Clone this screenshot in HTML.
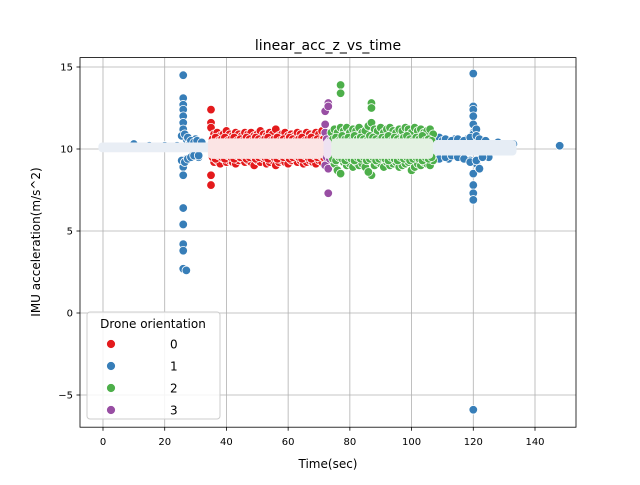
<!DOCTYPE html>
<html><head><meta charset="utf-8"><style>
body{margin:0;background:#fff}
text{font-family:"DejaVu Sans","Liberation Sans",sans-serif}
</style></head><body>
<svg id="chart" width="640" height="480" viewBox="0 0 640 480" xmlns="http://www.w3.org/2000/svg">
<rect width="640" height="480" fill="#fff"/>
<text x="328" y="50" font-size="14" text-anchor="middle">linear_acc_z_vs_time</text>
<g id="grid"></g>
<g id="bands"></g>
<g id="points"></g>
<rect x="80" y="57.6" width="496" height="369.6" fill="none" stroke="#000" stroke-width="0.8"/>
<g id="ticks"></g>
<text x="328" y="468" font-size="12" text-anchor="middle">Time(sec)</text>
<text transform="translate(40,242) rotate(-90)" font-size="12" text-anchor="middle">IMU acceleration(m/s^2)</text>
<g>
<rect x="87" y="312" width="133" height="107" rx="3" fill="#fff" fill-opacity="0.85" stroke="#ccc"/>
<text x="153" y="328" font-size="12" text-anchor="middle">Drone orientation</text>
<g id="legend-entries"></g>
</g>
</svg>
<script>
const xTicks=[0,20,40,60,80,100,120,140];
const yTicks=[-5,0,5,10,15];
const yTickLabels=["\u22125","0","5","10","15"];
const colors=["#e41a1c","#377eb8","#4daf4a","#984ea3"];
const categories=["0","1","2","3"];
// series 0 (red)
const t0=[35,35,35,35,35,36,37,38,39,40,41,42,43,44,45,46,47,48,49,50,51,52,53,54,55,56,57,58,59,60,61,62,63,64,65,66,67,68,69,70,71,72,36,37,38,39,40,41,42,43,44,45,46,47,48,49,50,51,52,53,54,55,56,57,58,59,60,61,62,63,64,65,66,67,68,69,70,71,72,
 35.5,36.5,37.5,38.5,39.5,40.5,41.5,42.5,43.5,44.5,45.5,46.5,47.5,48.5,49.5,50.5,51.5,52.5,53.5,54.5,55.5,56.5,57.5,58.5,59.5,60.5,61.5,62.5,63.5,64.5,65.5,66.5,67.5,68.5,69.5,70.5,71.5,
 35.5,36.5,37.5,38.5,39.5,40.5,41.5,42.5,43.5,44.5,45.5,46.5,47.5,48.5,49.5,50.5,51.5,52.5,53.5,54.5,55.5,56.5,57.5,58.5,59.5,60.5,61.5,62.5,63.5,64.5,65.5,66.5,67.5,68.5,69.5,70.5,71.5];
const v0=[12.4,11.6,11.3,8.4,7.8,10.9,11.0,10.8,10.9,11.1,10.9,10.8,11.0,10.9,10.8,11.0,10.9,11.0,10.8,10.9,11.1,10.9,10.8,11.0,10.9,11.2,10.8,10.9,11.0,10.8,10.9,10.8,11.0,10.9,10.8,11.0,10.9,10.8,11.0,10.9,11.1,10.8,9.2,9.3,9.1,9.4,9.2,9.3,9.2,9.1,9.3,9.4,9.2,9.3,9.2,9.0,9.3,9.2,9.4,9.1,9.2,9.3,9.0,9.2,9.3,9.2,9.1,9.3,9.4,9.2,9.3,9.1,9.2,9.3,9.2,9.1,9.3,9.2,9.3,
 10.6,10.7,10.5,10.6,10.7,10.5,10.6,10.7,10.5,10.6,10.5,10.7,10.6,10.5,10.7,10.6,10.5,10.6,10.7,10.5,10.6,10.7,10.5,10.6,10.5,10.7,10.6,10.5,10.6,10.7,10.5,10.6,10.7,10.5,10.6,10.5,10.6,
 9.5,9.4,9.6,9.5,9.4,9.6,9.5,9.4,9.6,9.5,9.6,9.4,9.5,9.6,9.4,9.5,9.6,9.5,9.4,9.6,9.5,9.4,9.6,9.5,9.6,9.4,9.5,9.6,9.5,9.4,9.6,9.5,9.4,9.6,9.5,9.6,9.5];
// series 1 (blue)
const t1=[10,15,20,24,26,26,26,26,26,26,26,26,26,26,26,26,26,26,27,27,27,28,29,30,31,110,112,114,116,118,119,120,120,120,120,120,120,120,120,120,120,120,120,121,121,122,123,125,128,130,133,148,
 25.5,26.5,27.5,28.5,29.5,30.5,32,25.5,26.5,27.5,28.5,29.5,31,108,109,110,111,113,115,117,119,121,122,124,108,109,111,113,115,117,119,121,123];
const v1=[10.3,10.2,10.2,10.2,14.5,13.1,12.7,12.4,12.0,11.6,11.2,8.9,8.4,6.4,5.4,4.2,3.8,2.7,2.6,10.6,9.4,10.5,9.6,10.6,9.5,10.5,9.4,10.6,9.5,10.6,9.3,14.6,12.6,12.4,12.0,11.5,11.0,8.5,7.8,7.3,6.9,-5.9,10.9,9.1,11.2,8.8,10.5,9.5,10.4,10.3,10.3,10.2,
 10.8,10.9,10.7,10.5,10.4,10.5,10.4,9.3,9.2,9.4,9.5,9.6,9.6,10.6,10.7,10.5,10.6,10.5,10.6,10.5,10.7,10.8,10.6,10.5,9.5,9.4,9.5,9.6,9.5,9.4,9.2,9.3,9.5];
// series 2 (green)
const t2=[74,75,76,77,77,77,78,79,80,81,82,83,84,85,86,87,87,87,87,88,89,90,91,92,93,94,95,96,97,98,99,100,101,102,103,104,105,106,107,75,76,77,78,79,80,81,82,83,84,85,86,88,89,90,91,92,93,94,95,96,97,98,99,100,101,102,103,104,105,106,107,
 74.5,75.5,76.5,77.5,78.5,79.5,80.5,81.5,82.5,83.5,84.5,85.5,86.5,87.5,88.5,89.5,90.5,91.5,92.5,93.5,94.5,95.5,96.5,97.5,98.5,99.5,100.5,101.5,102.5,103.5,104.5,105.5,106.5,
 74.5,75.5,76.5,77.5,78.5,79.5,80.5,81.5,82.5,83.5,84.5,85.5,86.5,87.5,88.5,89.5,90.5,91.5,92.5,93.5,94.5,95.5,96.5,97.5,98.5,99.5,100.5,101.5,102.5,103.5,104.5,105.5,106.5];
const v2=[11.0,11.2,11.0,13.9,13.4,11.3,11.1,11.3,11.0,11.2,11.1,11.3,11.0,11.1,11.4,12.8,12.5,11.6,8.4,11.2,11.1,11.3,11.0,11.2,11.3,11.1,11.0,11.2,11.1,11.3,11.2,11.0,11.3,11.1,11.2,11.0,11.1,11.2,10.9,9.1,8.7,8.5,9.2,9.0,9.1,8.9,9.2,9.0,9.1,8.9,8.6,9.0,9.2,9.1,8.9,9.2,9.0,9.1,9.2,8.9,9.0,9.1,9.2,8.7,8.9,9.1,9.0,9.2,9.1,9.0,9.3,
 10.6,10.7,10.5,10.8,10.6,10.7,10.5,10.8,10.6,10.7,10.6,10.5,10.8,10.7,10.6,10.5,10.7,10.6,10.8,10.5,10.7,10.6,10.5,10.7,10.8,10.6,10.5,10.7,10.6,10.8,10.5,10.6,10.5,
 9.4,9.3,9.5,9.4,9.3,9.5,9.4,9.3,9.5,9.4,9.5,9.3,9.4,9.5,9.3,9.4,9.5,9.4,9.3,9.5,9.4,9.3,9.5,9.4,9.5,9.3,9.4,9.5,9.4,9.3,9.5,9.4,9.5];
// series 3 (purple)
const t3=[72,73,73,72,72,73,72,73,73,72.5,73.5,72.5,73.5];
const v3=[12.3,12.8,12.6,11.5,11.0,9.3,9.0,8.8,7.3,10.6,10.5,9.5,9.4];
const seriesT=[t0,t1,t2,t3], seriesV=[v0,v1,v2,v3];
// pale dense-core bands
const bandSeries=[1,0,3,2,1];
const bandT0=[-1.5,34,71.5,74,107];
const bandT1=[134,71.5,74,107,134];
const bandLo=[9.8,9.4,9.4,9.4,9.6];
const bandHi=[10.4,10.65,10.65,10.65,10.55];
const bandFill=["#e9eef5","#fbe4e4","#eee2f2","#e4f2e3","#e6edf5"];

const X=t=>103+t*(432/140);
const Y=v=>149-(v-10)*16.4;
const NS="http://www.w3.org/2000/svg";
function mk(tag,parent,attrs){const e=document.createElementNS(NS,tag);for(const k in attrs)e.setAttribute(k,attrs[k]);parent.appendChild(e);return e;}
const grid=document.getElementById('grid'),ticks=document.getElementById('ticks');
xTicks.forEach(t=>{
  const l=mk('line',grid,{x1:X(t),x2:X(t),y1:57.6,y2:427.2,stroke:'#b0b0b0','stroke-width':0.8});
  
  
  mk('line',ticks,{x1:X(t),x2:X(t),y1:427.2,y2:430.7,stroke:'#000','stroke-width':0.8});
  const tx=mk('text',ticks,{x:X(t),y:445,'font-size':10,'text-anchor':'middle'});
  tx.textContent=t;
  
  
});
yTicks.forEach((v,i)=>{
  const l=mk('line',grid,{x1:80,x2:576,y1:Y(v),y2:Y(v),stroke:'#b0b0b0','stroke-width':0.8});
  
  
  mk('line',ticks,{x1:76.5,x2:80,y1:Y(v),y2:Y(v),stroke:'#000','stroke-width':0.8});
  const tx=mk('text',ticks,{x:73,y:Y(v)+3.5,'font-size':10,'text-anchor':'end'});
  tx.textContent=yTickLabels[i];
  
  
});
const pts=document.getElementById('points');
[1,0,3,2].forEach(s=>{
  seriesT[s].forEach((t,j)=>{
    const c=mk('circle',pts,{cx:X(t),cy:Y(seriesV[s][j]),r:4.3,fill:colors[s],stroke:'#fff','stroke-width':0.8});
    
    
  });
});
bandSeries.forEach((s,i)=>{
  const r=mk('rect',pts,{x:X(bandT0[i]),y:Y(bandHi[i]),width:X(bandT1[i])-X(bandT0[i]),height:Y(bandLo[i])-Y(bandHi[i]),fill:bandFill[i],rx:4});
  
  
});
const le=document.getElementById('legend-entries');
categories.forEach((c,i)=>{
  const y=344+i*22;
  const m=mk('circle',le,{cx:111,cy:y,r:4.5,fill:colors[i],stroke:'#fff','stroke-width':0.8});
  
  
  const tx=mk('text',le,{x:170,y:y+4.5,'font-size':12});
  tx.textContent=c;
  
  
});
</script>
</body></html>
